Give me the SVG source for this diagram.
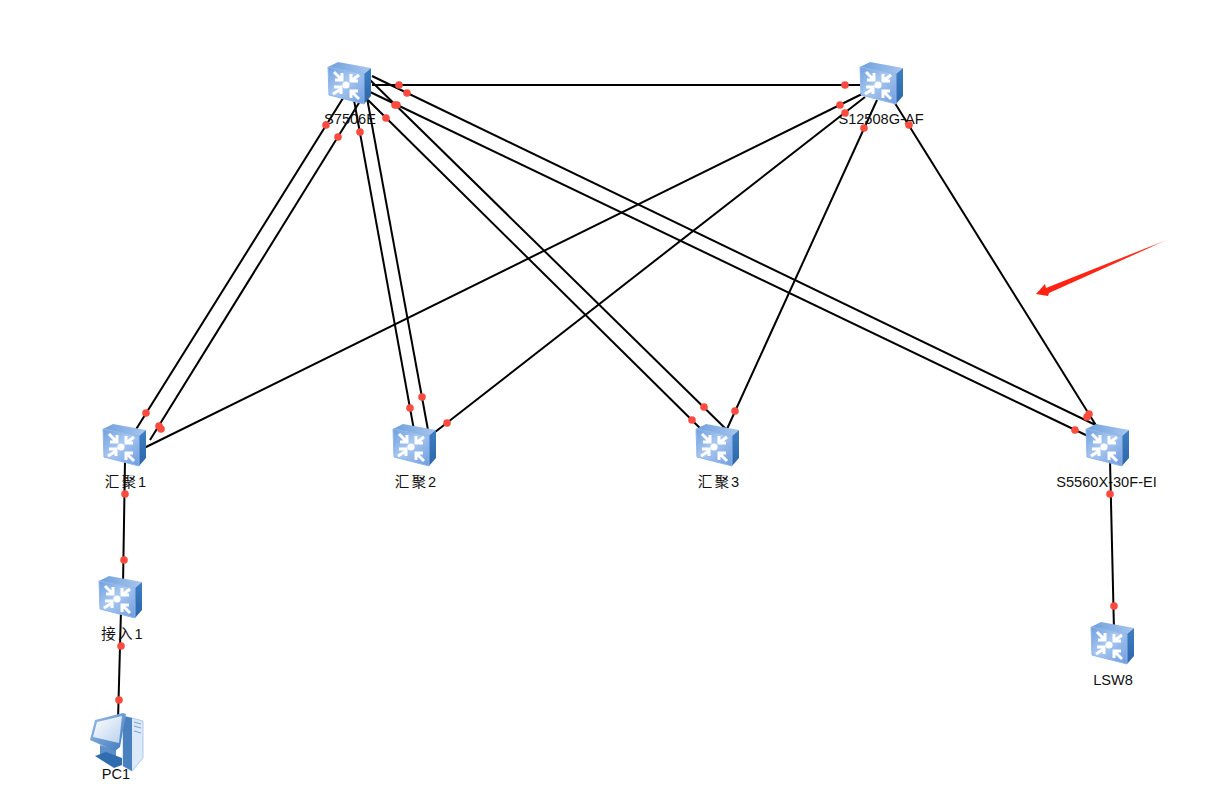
<svg xmlns="http://www.w3.org/2000/svg" width="1206" height="797" viewBox="0 0 1206 797">
<style>
.l{stroke:#000;stroke-width:2;fill:none}
.d{fill:#fb4a3e}
text{font-family:"Liberation Sans","Noto Sans CJK SC",sans-serif;font-size:14.6px;fill:#111;text-anchor:middle}
.cjk{letter-spacing:2px}
.arr{fill:none;stroke:#fff;stroke-width:3}
</style>
<defs>
<linearGradient id="front" x1="0" y1="0" x2="1" y2="1"><stop offset="0" stop-color="#6f9fe0"/><stop offset=".45" stop-color="#a9c8f0"/><stop offset="1" stop-color="#6f9ce0"/></linearGradient>
<linearGradient id="top" x1="0" y1="0" x2="1" y2="0"><stop offset="0" stop-color="#6ea0dc"/><stop offset="1" stop-color="#a8c6ee"/></linearGradient>
<linearGradient id="side" x1="0" y1="0" x2="0" y2="1"><stop offset="0" stop-color="#3f7fc4"/><stop offset="1" stop-color="#2b66a8"/></linearGradient>
<linearGradient id="arrowfade" gradientUnits="userSpaceOnUse" x1="1036" y1="294" x2="1169" y2="239"><stop offset="0" stop-color="#ff2010"/><stop offset=".85" stop-color="#ff2a1a"/><stop offset="1" stop-color="#ff6a5a" stop-opacity=".35"/></linearGradient>
<linearGradient id="scr" x1="0" y1="0" x2="1" y2="1"><stop offset="0" stop-color="#fff"/><stop offset="1" stop-color="#b9d2ee"/></linearGradient>
<linearGradient id="frame" x1="0" y1="0" x2="1" y2="1"><stop offset="0" stop-color="#9cc0e8"/><stop offset="1" stop-color="#3f78bc"/></linearGradient>
<g id="sw">
<polygon points="0,5 10,0 43,6 36,12" fill="url(#top)"/>
<polygon points="36,12 43,6 43,34 36,42" fill="url(#side)"/>
<polygon points="0,5 36,12 36,42 1,33" fill="url(#front)" stroke="#8fb5e8" stroke-width="1"/>
<circle cx="18" cy="23" r="3.6" fill="#fff"/>
<path class="arr" d="M6,10L14,18M7,18H14V11"/>
<path class="arr" d="M31,13L23,19M23,12V19H30"/>
<path class="arr" d="M5,32L13,27M6,25H13V32"/>
<path class="arr" d="M31,37L23,29M23,36V29H30"/>
</g>
</defs>
<rect width="1206" height="797" fill="#fff"/>
<g id="connectors">
<line class="l" x1="345" y1="95" x2="135" y2="431"/>
<line class="l" x1="362" y1="98" x2="150" y2="440"/>
<line class="l" x1="354" y1="100" x2="414" y2="430"/>
<line class="l" x1="367" y1="98" x2="428" y2="430"/>
<line class="l" x1="368" y1="100" x2="710" y2="438"/>
<line class="l" x1="368" y1="78" x2="730" y2="433"/>
<line class="l" x1="372" y1="76" x2="1108" y2="431"/>
<line class="l" x1="368" y1="91" x2="1092" y2="438"/>
<line class="l" x1="372" y1="85" x2="860" y2="85"/>
<line class="l" x1="862" y1="94" x2="140" y2="450"/>
<line class="l" x1="865" y1="97" x2="430" y2="436"/>
<line class="l" x1="877" y1="100" x2="722" y2="440"/>
<line class="l" x1="893" y1="100" x2="1102" y2="435"/>
<line class="l" x1="125" y1="460" x2="123" y2="585"/>
<line class="l" x1="121" y1="610" x2="118" y2="720"/>
<line class="l" x1="1110" y1="460" x2="1114" y2="630"/>
</g>
<g id="n-s7506e"><use href="#sw" x="328" y="62"/><text x="350" y="124">S7506E</text></g>
<g id="n-s12508"><use href="#sw" x="860" y="62"/><text x="881" y="124">S12508G-AF</text></g>
<g id="n-hj1"><use href="#sw" x="103" y="424"/><text class="cjk" x="126.5" y="487">汇聚1</text></g>
<g id="n-hj2"><use href="#sw" x="393" y="424"/><text class="cjk" x="416.5" y="487">汇聚2</text></g>
<g id="n-hj3"><use href="#sw" x="696" y="424"/><text class="cjk" x="719.5" y="487">汇聚3</text></g>
<g id="n-s5560"><use href="#sw" x="1086" y="424"/><text x="1106.5" y="487">S5560X-30F-EI</text></g>
<g id="n-jr1"><use href="#sw" x="99" y="576"/><text class="cjk" x="123" y="639">接入1</text></g>
<g id="n-lsw8"><use href="#sw" x="1091" y="622"/><text x="1113" y="685">LSW8</text></g>
<g id="n-pc1">
<polygon points="123,716 132,718 143,721 143,758 132,771 123,766" fill="#dce9f8" stroke="#9fbfe0" stroke-width=".8"/>
<polygon points="123,716 132,718 132,771 123,766" fill="#4a80c0"/>
<path d="M134,722l7,2M134,726l7,2M134,731l7,2" stroke="#7ea6d4" stroke-width="1.2"/>
<polygon points="100,745 116,750 116,760 100,756" fill="#5d8fc8"/>
<polygon points="95,756 106,752 122,758 122,765 114,768" fill="#2f6cb0"/>
<polygon points="95,720 123,713 126,714 120,747 115,751 90,740" fill="url(#frame)"/>
<polygon points="97,722 122,716 119,743 93,737" fill="url(#scr)"/>
<text x="116" y="779">PC1</text>
</g>
<g id="dots">
<circle class="d" cx="399" cy="85" r="3.8"/><circle class="d" cx="845" cy="85" r="3.8"/>
<circle class="d" cx="326" cy="125" r="3.8"/><circle class="d" cx="146" cy="413" r="3.8"/>
<circle class="d" cx="338" cy="137" r="3.8"/><circle class="d" cx="159" cy="426" r="3.8"/>
<circle class="d" cx="360" cy="132" r="3.8"/><circle class="d" cx="410" cy="408" r="3.8"/>
<circle class="d" cx="422" cy="397" r="3.8"/>
<circle class="d" cx="386" cy="118" r="3.8"/><circle class="d" cx="692" cy="420" r="3.8"/>
<circle class="d" cx="395" cy="105" r="3.8"/><circle class="d" cx="704" cy="407" r="3.8"/>
<circle class="d" cx="407" cy="93" r="3.8"/><circle class="d" cx="1087" cy="417" r="3.8"/>
<circle class="d" cx="397" cy="105" r="3.8"/><circle class="d" cx="1075" cy="430" r="3.8"/>
<circle class="d" cx="840" cy="105" r="3.8"/><circle class="d" cx="161" cy="429" r="3.8"/>
<circle class="d" cx="845" cy="113" r="3.8"/><circle class="d" cx="447" cy="423" r="3.8"/>
<circle class="d" cx="864" cy="128" r="3.8"/><circle class="d" cx="735" cy="411" r="3.8"/>
<circle class="d" cx="909" cy="125" r="3.8"/><circle class="d" cx="1089" cy="414" r="3.8"/>
<circle class="d" cx="125" cy="494" r="3.8"/><circle class="d" cx="124" cy="560" r="3.8"/>
<circle class="d" cx="121" cy="646" r="3.8"/><circle class="d" cx="119" cy="700" r="3.8"/>
<circle class="d" cx="1110" cy="494" r="3.8"/><circle class="d" cx="1114" cy="606" r="3.8"/>
</g>
<polygon points="1036,294 1045,284 1046,288 1169,239 1049,293 1048,296" fill="url(#arrowfade)"/>
</svg>
